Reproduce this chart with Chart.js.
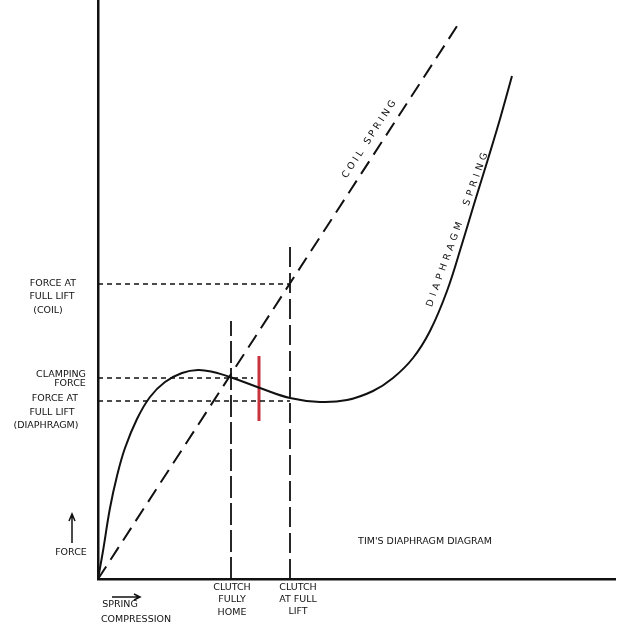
<!DOCTYPE html>
<html>
<head>
<meta charset="utf-8">
<script src="https://cdn.jsdelivr.net/npm/chart.js@4.4.0/dist/chart.umd.min.js"></script>
<style>
  html, body { margin: 0; padding: 0; background: #fff; }
  canvas { display: block; }
</style>
</head>
<body>
<canvas id="myChart" width="640" height="629"></canvas>
<script>
// x = spring compression, y = force (arbitrary units)
const diaphragmX = [0, 5, 12, 19, 27, 39, 52, 67, 84, 100, 115, 132, 162, 192, 222, 249, 275, 295, 315, 332, 349, 364, 377, 390, 402, 414]
const diaphragmY = [0, 28, 71, 103, 131, 160, 182, 197, 206, 209, 207, 202, 191, 181, 177, 179, 188, 201, 221, 248, 288, 335, 378, 420, 460, 503]

const coilX = [0, 363]
const coilY = [0, 559]

const clutchHome = 133
const clutchLift = 192
const clutchHomeTop = 258
const clutchLiftTop = 338

const forceLiftCoil = 295
const clampingForce = 201
const forceLiftDiaphragm = 178
const clampingEnd = 155

const markerX = 161
const markerY = [158, 223]

const INK = '#111'

const pts = (xs, ys) => xs.map((x, i) => ({ x: x, y: ys[i] }))

const line = (data, extra) => Object.assign({
  data: data,
  showLine: true,
  borderColor: INK,
  borderWidth: 2,
  pointRadius: 0,
  fill: false,
  clip: false
}, extra)

const labels = {
  id: 'sketchLabels',
  afterDraw: chart => {
    const ctx = chart.ctx
    const xs = chart.scales.x
    const ys = chart.scales.y
    ctx.save()
    ctx.fillStyle = INK
    ctx.strokeStyle = INK
    ctx.font = '9.5px "DejaVu Sans"'
    ctx.textAlign = 'center'
    ctx.textBaseline = 'middle'

    // left side labels, hung off the force levels
    let y = ys.getPixelForValue(forceLiftCoil)
    ctx.fillText('FORCE AT', 53, y)
    ctx.fillText('FULL LIFT', 52, y + 13)
    ctx.fillText('(COIL)', 48, y + 27)

    y = ys.getPixelForValue(clampingForce)
    ctx.fillText('CLAMPING', 61, y - 3)
    ctx.fillText('FORCE', 70, y + 6)

    y = ys.getPixelForValue(forceLiftDiaphragm)
    ctx.fillText('FORCE AT', 55, y - 2)
    ctx.fillText('FULL LIFT', 52, y + 12)
    ctx.fillText('(DIAPHRAGM)', 46, y + 25)

    // bottom labels under the clutch positions
    let x = xs.getPixelForValue(clutchHome)
    ctx.fillText('CLUTCH', x + 1, 588)
    ctx.fillText('FULLY', x + 1, 600)
    ctx.fillText('HOME', x + 1, 613)

    x = xs.getPixelForValue(clutchLift)
    ctx.fillText('CLUTCH', x + 8, 588)
    ctx.fillText('AT FULL', x + 8, 600)
    ctx.fillText('LIFT', x + 8, 612)

    ctx.fillText('SPRING', 120, 605)
    ctx.fillText('COMPRESSION', 136, 620)
    ctx.fillText('FORCE', 71, 553)
    ctx.fillText("TIM'S DIAPHRAGM DIAGRAM", 425, 542)

    // arrows
    ctx.lineWidth = 1.5
    ctx.beginPath()
    ctx.moveTo(112, 597); ctx.lineTo(140, 597)
    ctx.moveTo(134, 594); ctx.lineTo(140, 597); ctx.lineTo(134, 600)
    ctx.moveTo(72, 543); ctx.lineTo(72, 514)
    ctx.moveTo(69, 521); ctx.lineTo(72, 514); ctx.lineTo(75, 521)
    ctx.stroke()

    // curve names, written along the lines
    ctx.letterSpacing = '3px'
    ctx.translate(370, 138)
    ctx.rotate(-57 * Math.PI / 180)
    ctx.fillText('COIL SPRING', 0, 0)
    ctx.setTransform(1, 0, 0, 1, 0, 0)

    ctx.letterSpacing = '4px'
    ctx.translate(458, 228)
    ctx.rotate(-70 * Math.PI / 180)
    ctx.fillText('DIAPHRAGM  SPRING', 0, 0)
    ctx.restore()
  }
}

const config = {
  type: 'scatter',
  data: {
    datasets: [
      line(pts(diaphragmX, diaphragmY), { tension: 0.4 }),
      line(pts(coilX, coilY), { borderDash: [15, 8] }),
      line([{ x: clutchHome, y: 0 }, { x: clutchHome, y: clutchHomeTop }], { borderDash: [22, 5], borderWidth: 1.8 }),
      line([{ x: clutchLift, y: 0 }, { x: clutchLift, y: clutchLiftTop }], { borderDash: [20, 6], borderWidth: 1.8 }),
      line([{ x: 0, y: forceLiftCoil }, { x: clutchLift, y: forceLiftCoil }], { borderDash: [5, 4], borderWidth: 1.5 }),
      line([{ x: 0, y: clampingForce }, { x: clampingEnd, y: clampingForce }], { borderDash: [5, 4], borderWidth: 1.5 }),
      line([{ x: 0, y: forceLiftDiaphragm }, { x: clutchLift, y: forceLiftDiaphragm }], { borderDash: [5, 4], borderWidth: 1.5 }),
      line([{ x: markerX, y: markerY[0] }, { x: markerX, y: markerY[1] }], { borderColor: '#c8323c', borderWidth: 3 })
    ]
  },
  plugins: [labels],
  options: {
    responsive: false,
    animation: false,
    layout: { padding: { left: 98, right: 25, top: 0, bottom: 50 } },
    plugins: { legend: { display: false }, tooltip: { enabled: false } },
    scales: {
      x: {
        type: 'linear',
        min: 0,
        max: 517,
        grid: { display: false, drawTicks: false, tickLength: 0 },
        ticks: { display: false },
        border: { display: true, color: INK, width: 2.5 }
      },
      y: {
        type: 'linear',
        min: 0,
        max: 579,
        grid: { display: false, drawTicks: false, tickLength: 0 },
        ticks: { display: false },
        border: { display: true, color: INK, width: 2.5 }
      }
    }
  }
}

const chart = new Chart(document.getElementById('myChart'), config)
</script>
</body>
</html>
